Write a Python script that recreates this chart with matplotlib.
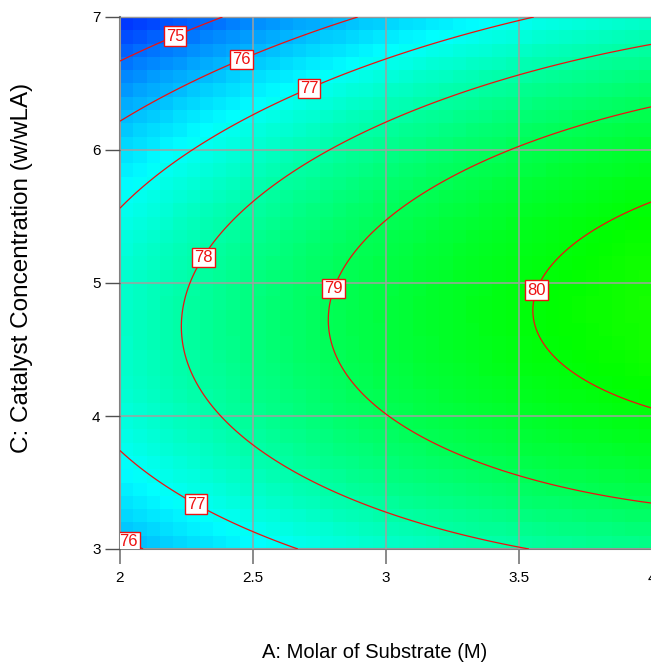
import numpy as np
import matplotlib.pyplot as plt
from matplotlib.colors import LinearSegmentedColormap

plt.rcParams["font.family"] = ["Liberation Sans", "DejaVu Sans"]

# fitted response surface, actual factors:
# Y = b0 + bA*A + bC*C + bAC*A*C + bAA*A^2 + bCC*C^2
b0, bA, bC, bAC, bAA, bCC = 59.238630, 3.237983, 5.518347, 0.113494, -0.391113, -0.617561

a_range = [2.0, 4.0]
c_range = [3.0, 7.0]
levels = [75, 76, 77, 78, 79, 80]
x_ticks = [2, 2.5, 3, 3.5, 4]
x_ticklabels = ["2", "2.5", "3", "3.5", "4"]
y_ticks = [3, 4, 5, 6, 7]
y_ticklabels = ["3", "4", "5", "6", "7"]
label_spots = [(2.2, 6.89), (2.447, 6.72), (2.045, 3.11), (2.70, 6.51), (2.30, 3.39),
               (2.30, 5.21), (2.786, 4.97), (3.534, 4.97)]


def model(a, c):
    return b0 + bA * a + bC * c + bAC * a * c + bAA * a**2 + bCC * c**2


fig = plt.figure(figsize=(6.51, 6.63), dpi=100)
ax = fig.add_axes([120 / 651, 114 / 663, 532 / 651, 532 / 663])

# coarse colour cells like the original
ea = np.linspace(a_range[0], a_range[1], 41)
ec = np.linspace(c_range[0], c_range[1], 41)
ca, cc = np.meshgrid((ea[:-1] + ea[1:]) / 2, (ec[:-1] + ec[1:]) / 2)
cmap = LinearSegmentedColormap.from_list("de", ["#0000ff", "#00ffff", "#00ff00", "#ffff00", "#ff0000"])
ax.pcolormesh(ea, ec, model(ca, cc), cmap=cmap, vmin=73.6, vmax=86.6, shading="flat", zorder=1)

fa, fc = np.meshgrid(np.linspace(a_range[0], a_range[1], 300), np.linspace(c_range[0], c_range[1], 300))
cs = ax.contour(fa, fc, model(fa, fc), levels=levels, colors="#ee1111", linewidths=0.9, zorder=3)
labels = ax.clabel(cs, fmt="%d", manual=label_spots, inline=False, fontsize=12, colors="#ee1111")
for t in labels:
    t.set_rotation(0)
    t.set_fontsize(12)
    t.set_bbox(dict(facecolor="white", edgecolor="#ee1111", linewidth=1, pad=1.6))
    t.set_zorder(5)

ax.set_xlim(a_range)
ax.set_ylim(c_range)
ax.set_xticks(x_ticks)
ax.set_xticklabels(x_ticklabels)
ax.set_yticks(y_ticks)
ax.set_yticklabels(y_ticklabels)
ax.tick_params(axis="x", length=11, width=1.3, color="#808080", labelsize=11, pad=5)
ax.tick_params(axis="y", length=11, width=1.0, color="#505050", labelsize=11, pad=3)
ax.grid(True, color="#a0a0a0", linewidth=1.1)
ax.set_axisbelow(False)
for s in ["left", "bottom", "top"]:
    ax.spines[s].set_color("#808080")
    ax.spines[s].set_linewidth(1.5)
ax.spines["top"].set_linewidth(1.0)
ax.spines["right"].set_visible(False)

fig.text(375 / 651, 1 - 652 / 663, "A: Molar of Substrate (M)", fontsize=14.5, ha="center", va="center")
fig.text(22 / 651, 1 - 268 / 663, "C: Catalyst Concentration (w/wLA)", fontsize=17.5,
         rotation=90, ha="center", va="center")

fig.savefig("out.png")
